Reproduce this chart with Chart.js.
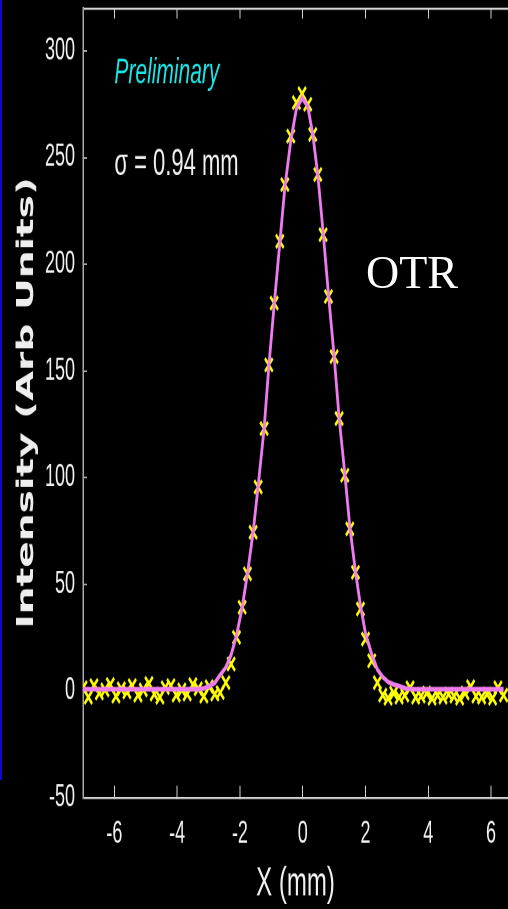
<!DOCTYPE html>
<html><head><meta charset="utf-8">
<script src="https://cdn.jsdelivr.net/npm/chart.js@4.4.1/dist/chart.umd.min.js"></script>
<style>
html,body{margin:0;padding:0;background:#000;width:508px;height:909px;overflow:hidden;}
#wrap{position:absolute;left:0;top:0;width:508px;height:535px;transform:scaleY(1.6991);transform-origin:0 0;}
#bar{position:absolute;left:0;top:0;width:2px;height:780px;background:#0b0bc8;}
#otr{position:absolute;left:366px;top:250px;font-family:"Liberation Serif","Times New Roman",serif;font-size:46px;line-height:46px;color:#fff;}
</style></head><body>
<div id="wrap"><canvas id="c"></canvas></div>
<div id="bar"></div>
<div id="otr">OTR</div>
<script>
// X positions of the samples (mm)
const xValues = [
  -7.00,-6.83,-6.65,-6.48,-6.30,-6.13,-5.95,-5.78,-5.60,-5.43,-5.25,-5.08,-4.90,-4.73,-4.55,-4.38,-4.20,-4.03,-3.85,-3.68,-3.50,-3.33,-3.15,-2.98,-2.80,-2.63,
  -2.45,-2.28,-2.11,-1.93,-1.76,-1.58,-1.42,-1.23,-1.08,-0.91,-0.73,-0.57,-0.38,-0.20,-0.02,0.16,0.32,0.48,0.65,0.82,1.00,1.16,1.34,1.50,1.68,1.84,2.00,2.20,2.38,
  2.55,2.72,2.90,3.07,3.25,3.42,3.60,3.77,3.95,4.12,4.30,4.47,4.65,4.82,5.00,5.17,5.35,5.52,5.70,5.87,6.05,6.22,6.40
];
// measured OTR intensity (yellow crosses)
const measured = [
  1.5,-3.0,2.5,-1.0,0.5,3.0,-2.5,1.0,-0.5,2.5,-2.0,0.5,3.5,-1.5,-3.0,1.5,2.5,-2.0,0.5,-1.5,3.0,1.0,-2.5,2.0,-1.5,-0.8,
  3.9,12.6,25.1,39.2,54.9,74.4,95.6,123.0,152.8,181.8,210.8,237.4,260.1,275.8,280.0,275.0,260.9,242.1,213.9,184.9,156.7,127.7,101.1,76.0,55.6,38.4,24.3,14.1,3.9,
  -2.0,-3.5,-1.0,-3.0,-2.0,1.5,-3.0,-2.5,-1.0,-3.5,-2.0,-3.0,-1.5,-2.5,-3.5,-1.0,2.0,-2.5,-3.0,-1.5,-3.5,1.5,-2.0
];
// fitted gaussian (violet line)
const fitted = [
  0.8,0.8,0.8,0.8,0.8,0.8,0.8,0.8,0.8,0.8,0.8,0.8,0.8,0.8,0.8,0.8,0.8,0.8,0.8,0.8,0.8,0.8,1.2,2.2,3.8,7.5,
  11,17,26,39,55,74.5,96,123,152,181,210,236,258,273,278,274,261,242,215,186,157,128,102,77,56,40,27,17,10,
  6.5,4.2,3.0,2.3,1.3,0.8,0.8,0.8,0.8,0.8,0.8,0.8,0.8,0.8,0.8,0.8,0.8,0.8,0.8,0.8,0.8,0.8,0.8
];
const xTicks = [-6,-4,-2,0,2,4,6];
const yTicks = [-50,0,50,100,150,200,250,300];
const xLabel = 'X (mm)';
const yLabel = 'Intensity (Arb Units)';
const notes = [
  {text:'Preliminary', x:-6, y:285, color:'#1ee6e6', font:'italic 21px "Liberation Sans", Arial, sans-serif'},
  {text:'\u03c3 = 0.94 mm', x:-6, y:242, color:'#f0f0f0', font:'22px "Liberation Sans", Arial, sans-serif'}
];

const notesPlugin = {
  id:'notes',
  afterDatasetsDraw(chart){
    const {ctx, scales:{x, y}} = chart;
    ctx.save();
    notes.forEach(n => {
      ctx.font = n.font; ctx.fillStyle = n.color;
      ctx.textAlign = 'left'; ctx.textBaseline = 'alphabetic';
      ctx.fillText(n.text, x.getPixelForValue(n.x), y.getPixelForValue(n.y));
    });
    ctx.restore();
  }
};

const tickFont = {family:'"Liberation Sans", Arial, sans-serif', size:18};
const setX = s => { s.ticks = xTicks.map(v => ({value:v})); };
const noPad = s => { s.paddingTop = 0; s.paddingBottom = 0; s.paddingLeft = 0; s.paddingRight = 0; };

new Chart(document.getElementById('c'), {
  type:'scatter',
  data:{datasets:[
    {label:'Fit', data:xValues.map((x,i)=>({x, y:fitted[i]})), showLine:true, borderColor:'#ee7cee',
     borderWidth:2.8, pointRadius:0, tension:0, order:0},
    {label:'Data', data:xValues.map((x,i)=>({x, y:measured[i]})), showLine:false, pointStyle:'crossRot',
     pointRadius:5.5, pointBorderWidth:2.1, pointBorderColor:'#ffff00', pointBackgroundColor:'#ffff00', borderColor:'#ffff00', order:1}
  ]},
  options:{
    responsive:true, maintainAspectRatio:false, devicePixelRatio:2, animation:false, events:[],
    layout:{padding:0, autoPadding:false},
    plugins:{legend:{display:false}, tooltip:{enabled:false}},
    scales:{
      x:{type:'linear', position:'bottom', min:-7, max:6.54,
        afterBuildTicks:setX, afterFit:s=>{s.height=65.6; noPad(s);},
        ticks:{color:'#f2f2f2', font:tickFont, padding:18, maxRotation:0, autoSkip:false},
        grid:{display:true, drawOnChartArea:false, drawTicks:true, tickLength:-7, color:'#d0d0d0', lineWidth:1},
        border:{display:true, color:'#d8d8d8', width:1.2},
        title:{display:true, text:xLabel, color:'#f2f2f2', font:{family:'"Liberation Sans", Arial, sans-serif', size:24}, padding:{top:0,bottom:0}}
      },
      xTop:{type:'linear', position:'top', min:-7, max:6.54,
        afterBuildTicks:setX, afterFit:s=>{s.height=4.9; noPad(s);},
        ticks:{display:false},
        grid:{display:true, drawOnChartArea:false, drawTicks:true, tickLength:-6, color:'#d0d0d0', lineWidth:1},
        border:{display:true, color:'#d8d8d8', width:1.2}
      },
      y:{type:'linear', position:'left', min:-50, max:320,
        afterBuildTicks:s=>{s.ticks = yTicks.map(v=>({value:v}));}, afterFit:s=>{s.width=83; noPad(s);},
        ticks:{color:'#f2f2f2', font:tickFont, padding:12},
        grid:{display:true, drawOnChartArea:false, drawTicks:true, tickLength:-4, color:'#a8a8a8', lineWidth:1},
        border:{display:true, color:'#a8a8a8', width:1.5},
        title:{display:true, text:yLabel, color:'#eeeeee', font:{family:'"DejaVu Sans", sans-serif', size:23, weight:'bold'}, padding:{top:13,bottom:0}}
      }
    }
  },
  plugins:[notesPlugin]
});
</script>
</body></html>
